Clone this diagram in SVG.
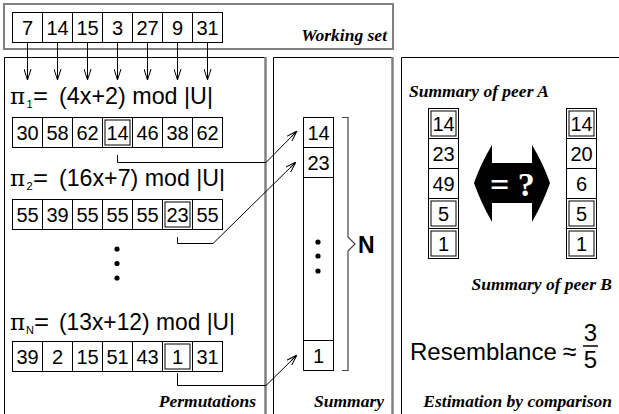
<svg xmlns="http://www.w3.org/2000/svg" width="619" height="414" viewBox="0 0 619 414">
<defs>
<style>
.cell{fill:#fff;stroke:#000;stroke-width:1}
.hl{fill:none;stroke:#000;stroke-width:1}
.num{font-family:"Liberation Sans",Arial,sans-serif;font-size:20px;fill:#000;text-anchor:middle}
.lbl{font-family:"Liberation Serif","Times New Roman",serif;font-size:17.5px;font-weight:bold;font-style:italic;fill:#000}
.f{font-family:"Liberation Sans",Arial,sans-serif;font-size:24px;fill:#000}
.pi{font-family:"DejaVu Serif","Liberation Serif",serif;font-size:23px;fill:#000}
.sub{font-family:"Liberation Sans",Arial,sans-serif;font-size:11px;fill:#000}
.frame{fill:none;stroke:#000;stroke-width:1}
.gray{stroke:#808080;stroke-width:2.5;fill:none}
.conn{fill:none;stroke:#000;stroke-width:1}
</style>
<marker id="ah" viewBox="0 0 11 8" refX="11" refY="4" markerWidth="11" markerHeight="8" markerUnits="userSpaceOnUse" orient="auto">
<path d="M0,0.5 L11,4 L0,7.5 M3,4 L11,4" fill="none" stroke="#000" stroke-width="1"/>
</marker>
</defs>
<rect width="619" height="414" fill="#fff"/>

<g id="working-set">
<rect x="4" y="4" width="389" height="45" fill="none" stroke="#808080" stroke-width="2"/>
<rect class="cell" x="12.5" y="12.5" width="30" height="30"/>
<rect class="cell" x="42.5" y="12.5" width="30" height="30"/>
<rect class="cell" x="72.5" y="12.5" width="30" height="30"/>
<rect class="cell" x="102.5" y="12.5" width="30" height="30"/>
<rect class="cell" x="132.5" y="12.5" width="30" height="30"/>
<rect class="cell" x="162.5" y="12.5" width="30" height="30"/>
<rect class="cell" x="192.5" y="12.5" width="30" height="30"/>
<text class="num" x="27.5" y="35">7</text>
<text class="num" x="57.5" y="35">14</text>
<text class="num" x="87.5" y="35">15</text>
<text class="num" x="117.5" y="35">3</text>
<text class="num" x="147.5" y="35">27</text>
<text class="num" x="177.5" y="35">9</text>
<text class="num" x="207.5" y="35">31</text>
<text class="lbl" x="387" y="41" text-anchor="end">Working set</text>
</g>

<g id="permutations">
<path class="frame" d="M4.5,420 V57.5 H265"/>
<line class="gray" x1="265.5" y1="57" x2="265.5" y2="420"/>
<text class="pi" x="10" y="104">π</text>
<text class="sub" x="26.5" y="108">1</text>
<text class="f" x="33" y="104" textLength="15" lengthAdjust="spacingAndGlyphs">=</text>
<text class="f" x="59" y="104" textLength="154" lengthAdjust="spacingAndGlyphs">(4x+2) mod |U|</text>
<g id="row1">
<rect class="cell" x="12.5" y="117.5" width="30" height="30"/>
<rect class="cell" x="42.5" y="117.5" width="30" height="30"/>
<rect class="cell" x="72.5" y="117.5" width="30" height="30"/>
<rect class="cell" x="102.5" y="117.5" width="30" height="30"/>
<rect class="cell" x="132.5" y="117.5" width="30" height="30"/>
<rect class="cell" x="162.5" y="117.5" width="30" height="30"/>
<rect class="cell" x="192.5" y="117.5" width="30" height="30"/>
<rect class="hl" x="105" y="120" width="25" height="25"/>
<text class="num" x="27.5" y="140">30</text>
<text class="num" x="57.5" y="140">58</text>
<text class="num" x="87.5" y="140">62</text>
<text class="num" x="117.5" y="140">14</text>
<text class="num" x="147.5" y="140">46</text>
<text class="num" x="177.5" y="140">38</text>
<text class="num" x="207.5" y="140">62</text>
</g>
<text class="pi" x="10" y="186">π</text>
<text class="sub" x="26.5" y="190">2</text>
<text class="f" x="33" y="186" textLength="15" lengthAdjust="spacingAndGlyphs">=</text>
<text class="f" x="59" y="186" textLength="166" lengthAdjust="spacingAndGlyphs">(16x+7) mod |U|</text>
<g id="row2">
<rect class="cell" x="12.5" y="199.5" width="30" height="30"/>
<rect class="cell" x="42.5" y="199.5" width="30" height="30"/>
<rect class="cell" x="72.5" y="199.5" width="30" height="30"/>
<rect class="cell" x="102.5" y="199.5" width="30" height="30"/>
<rect class="cell" x="132.5" y="199.5" width="30" height="30"/>
<rect class="cell" x="162.5" y="199.5" width="30" height="30"/>
<rect class="cell" x="192.5" y="199.5" width="30" height="30"/>
<rect class="hl" x="165" y="202" width="25" height="25"/>
<text class="num" x="27.5" y="222">55</text>
<text class="num" x="57.5" y="222">39</text>
<text class="num" x="87.5" y="222">55</text>
<text class="num" x="117.5" y="222">55</text>
<text class="num" x="147.5" y="222">55</text>
<text class="num" x="177.5" y="222">23</text>
<text class="num" x="207.5" y="222">55</text>
</g>
<circle cx="117" cy="249" r="2.6"/>
<circle cx="117" cy="263.5" r="2.6"/>
<circle cx="117" cy="278" r="2.6"/>
<text class="pi" x="10" y="330">π</text>
<text class="sub" x="26" y="334">N</text>
<text class="f" x="34" y="330" textLength="15" lengthAdjust="spacingAndGlyphs">=</text>
<text class="f" x="59" y="330" textLength="176" lengthAdjust="spacingAndGlyphs">(13x+12) mod |U|</text>
<g id="rowN">
<rect class="cell" x="12.5" y="341.5" width="30" height="30"/>
<rect class="cell" x="42.5" y="341.5" width="30" height="30"/>
<rect class="cell" x="72.5" y="341.5" width="30" height="30"/>
<rect class="cell" x="102.5" y="341.5" width="30" height="30"/>
<rect class="cell" x="132.5" y="341.5" width="30" height="30"/>
<rect class="cell" x="162.5" y="341.5" width="30" height="30"/>
<rect class="cell" x="192.5" y="341.5" width="30" height="30"/>
<rect class="hl" x="165" y="344" width="25" height="25"/>
<text class="num" x="27.5" y="364">39</text>
<text class="num" x="57.5" y="364">2</text>
<text class="num" x="87.5" y="364">15</text>
<text class="num" x="117.5" y="364">51</text>
<text class="num" x="147.5" y="364">43</text>
<text class="num" x="177.5" y="364">1</text>
<text class="num" x="207.5" y="364">31</text>
</g>
<text class="lbl" x="256" y="407" text-anchor="end">Permutations</text>
</g>

<g id="summary">
<path class="frame" d="M273.5,420 V57.5 H392"/>
<line class="gray" x1="392.5" y1="57" x2="392.5" y2="420"/>
<rect class="cell" x="303.5" y="117.5" width="30" height="253"/>
<line class="frame" x1="303.5" y1="147.5" x2="333.5" y2="147.5"/>
<line class="frame" x1="303.5" y1="177.5" x2="333.5" y2="177.5"/>
<line class="frame" x1="303.5" y1="340.5" x2="333.5" y2="340.5"/>
<text class="num" x="318.5" y="140">14</text>
<text class="num" x="318.5" y="170">23</text>
<text class="num" x="318.5" y="363">1</text>
<circle cx="318" cy="242" r="2.6"/>
<circle cx="318" cy="256" r="2.6"/>
<circle cx="318" cy="271" r="2.6"/>
<path d="M342,117.5 H348 V237 L355,244 L348,251 V370.5 H342" fill="none" stroke="#444" stroke-width="1.2"/>
<text x="358" y="253" font-family="Liberation Sans,Arial,sans-serif" font-size="23" font-weight="bold">N</text>
<text class="lbl" x="384" y="407" text-anchor="end">Summary</text>
</g>

<g id="comparison">
<path class="frame" d="M401.5,420 V57.5 H625"/>
<text class="lbl" x="409" y="97">Summary of peer A</text>
<g id="peerA">
<rect class="cell" x="428.5" y="108.5" width="30" height="30"/>
<rect class="cell" x="428.5" y="138.5" width="30" height="30"/>
<rect class="cell" x="428.5" y="168.5" width="30" height="30"/>
<rect class="cell" x="428.5" y="198.5" width="30" height="30"/>
<rect class="cell" x="428.5" y="228.5" width="30" height="30"/>
<rect class="hl" x="431" y="111" width="25" height="25"/>
<rect class="hl" x="431" y="201" width="25" height="25"/>
<rect class="hl" x="431" y="231" width="25" height="25"/>
<text class="num" x="443.5" y="131">14</text>
<text class="num" x="443.5" y="161">23</text>
<text class="num" x="443.5" y="191">49</text>
<text class="num" x="443.5" y="221">5</text>
<text class="num" x="443.5" y="251">1</text>
</g>
<g id="peerB">
<rect class="cell" x="566.5" y="108.5" width="30" height="30"/>
<rect class="cell" x="566.5" y="138.5" width="30" height="30"/>
<rect class="cell" x="566.5" y="168.5" width="30" height="30"/>
<rect class="cell" x="566.5" y="198.5" width="30" height="30"/>
<rect class="cell" x="566.5" y="228.5" width="30" height="30"/>
<rect class="hl" x="569" y="111" width="25" height="25"/>
<rect class="hl" x="569" y="201" width="25" height="25"/>
<rect class="hl" x="569" y="231" width="25" height="25"/>
<text class="num" x="581.5" y="131">14</text>
<text class="num" x="581.5" y="161">20</text>
<text class="num" x="581.5" y="191">6</text>
<text class="num" x="581.5" y="221">5</text>
<text class="num" x="581.5" y="251">1</text>
</g>
<g id="compare-arrow">
<path d="M474,183 Q481,163 492,145 V163 H532 V145 Q543,163 550,183 Q543,203 532,222 V203 H492 V222 Q481,203 474,183 Z" fill="#000"/>
<text x="490" y="196" font-family="Liberation Serif,Times New Roman,serif" font-size="34" font-weight="bold" fill="#fff">= ?</text>
</g>
<text class="lbl" x="612" y="290" text-anchor="end">Summary of peer B</text>
<text class="f" x="410" y="360" font-size="21">Resemblance<tspan font-size="25" dx="6">≈</tspan></text>
<text class="f" x="590.5" y="341" font-size="22" text-anchor="middle">3</text>
<line x1="583" y1="346" x2="598" y2="346" stroke="#000" stroke-width="1.5"/>
<text class="f" x="590.5" y="368" font-size="22" text-anchor="middle">5</text>
<text class="lbl" x="612" y="407" text-anchor="end">Estimation by comparison</text>
</g>

<g id="connectors">
<line class="conn" x1="27.5" y1="43" x2="27.5" y2="80" marker-end="url(#ah)"/>
<line class="conn" x1="57.5" y1="43" x2="57.5" y2="80" marker-end="url(#ah)"/>
<line class="conn" x1="87.5" y1="43" x2="87.5" y2="80" marker-end="url(#ah)"/>
<line class="conn" x1="117.5" y1="43" x2="117.5" y2="80" marker-end="url(#ah)"/>
<line class="conn" x1="147.5" y1="43" x2="147.5" y2="80" marker-end="url(#ah)"/>
<line class="conn" x1="177.5" y1="43" x2="177.5" y2="80" marker-end="url(#ah)"/>
<line class="conn" x1="207.5" y1="43" x2="207.5" y2="80" marker-end="url(#ah)"/>
<polyline class="conn" points="117.5,155 117.5,162.5 266,162.5 297,131" marker-end="url(#ah)"/>
<polyline class="conn" points="177.5,237 177.5,243.5 213,243.5 296,162" marker-end="url(#ah)"/>
<polyline class="conn" points="177.5,373 177.5,385.5 266,385.5 297,355" marker-end="url(#ah)"/>
</g>
</svg>
